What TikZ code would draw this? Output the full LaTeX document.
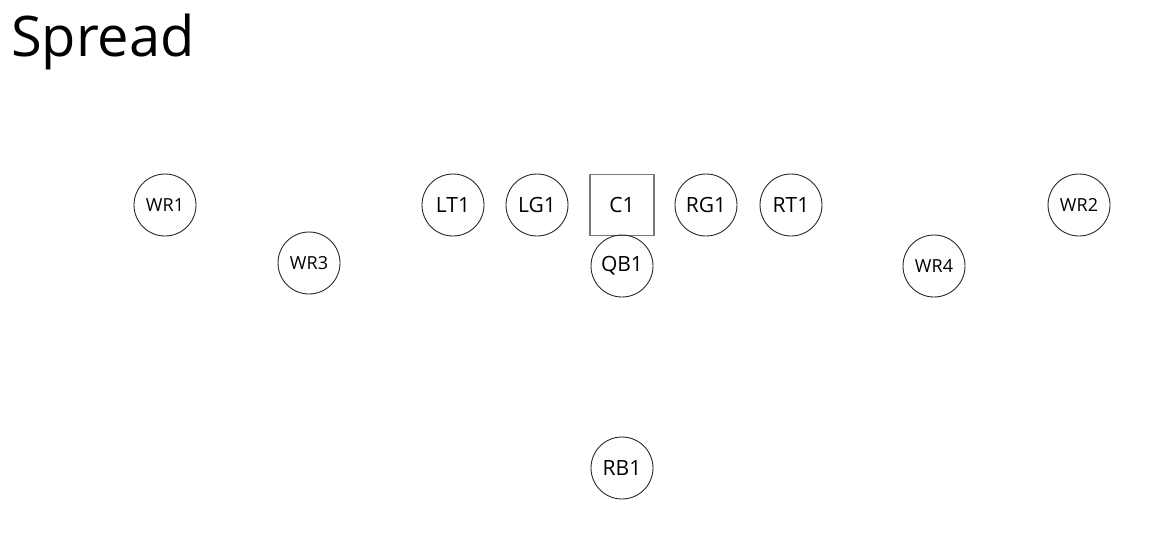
\documentclass[tikz,border=0pt]{standalone}
\usepackage{fontspec}
\setmainfont{Open Sans}
\usetikzlibrary{positioning}
\definecolor{cEdge}{RGB}{40,40,40}
\definecolor{cGrey}{RGB}{120,120,120}

\begin{document}
\begin{tikzpicture}[
  x=1pt, y=-1pt,
  player/.style={draw=cEdge, circle, line width=0.9pt, minimum size=62pt,
                 inner sep=0pt, font=\fontsize{21}{21}\selectfont},
  wide/.style={player, font=\fontsize{18}{18}\selectfont},
  center/.style={draw=cGrey, rectangle, line width=1.1pt, minimum width=64pt,
                 minimum height=61pt, inner sep=0pt,
                 font=\fontsize{21}{21}\selectfont}
]
\useasboundingbox (0,0) rectangle (1151,538);

%% ── TITLE ────────────────────────────────────────────────────────────────────

\node[anchor=base west, inner sep=0pt, font=\fontsize{56}{56}\selectfont]
  (title) at (11,56) {Spread};

%% ── OFFENSIVE LINE ───────────────────────────────────────────────────────────

\node[center] (c1) at (622,205) {C1};
\node[player] (lg1) at (537,205) {LG1};
\node[player] (lt1) at (453,205) {LT1};
\node[player] (rg1) at (706,205) {RG1};
\node[player] (rt1) at (791,205) {RT1};

%% ── BACKFIELD ────────────────────────────────────────────────────────────────

\node[player] (qb1) at (622,266) {QB1};
\node[player] (rb1) at (622,468) {RB1};

%% ── RECEIVERS ────────────────────────────────────────────────────────────────

\node[wide] (wr1) at (165,205) {WR1};
\node[wide] (wr3) at (309,263) {WR3};
\node[wide] (wr2) at (1079,205) {WR2};
\node[wide] (wr4) at (934,266) {WR4};

\end{tikzpicture}
\end{document}
